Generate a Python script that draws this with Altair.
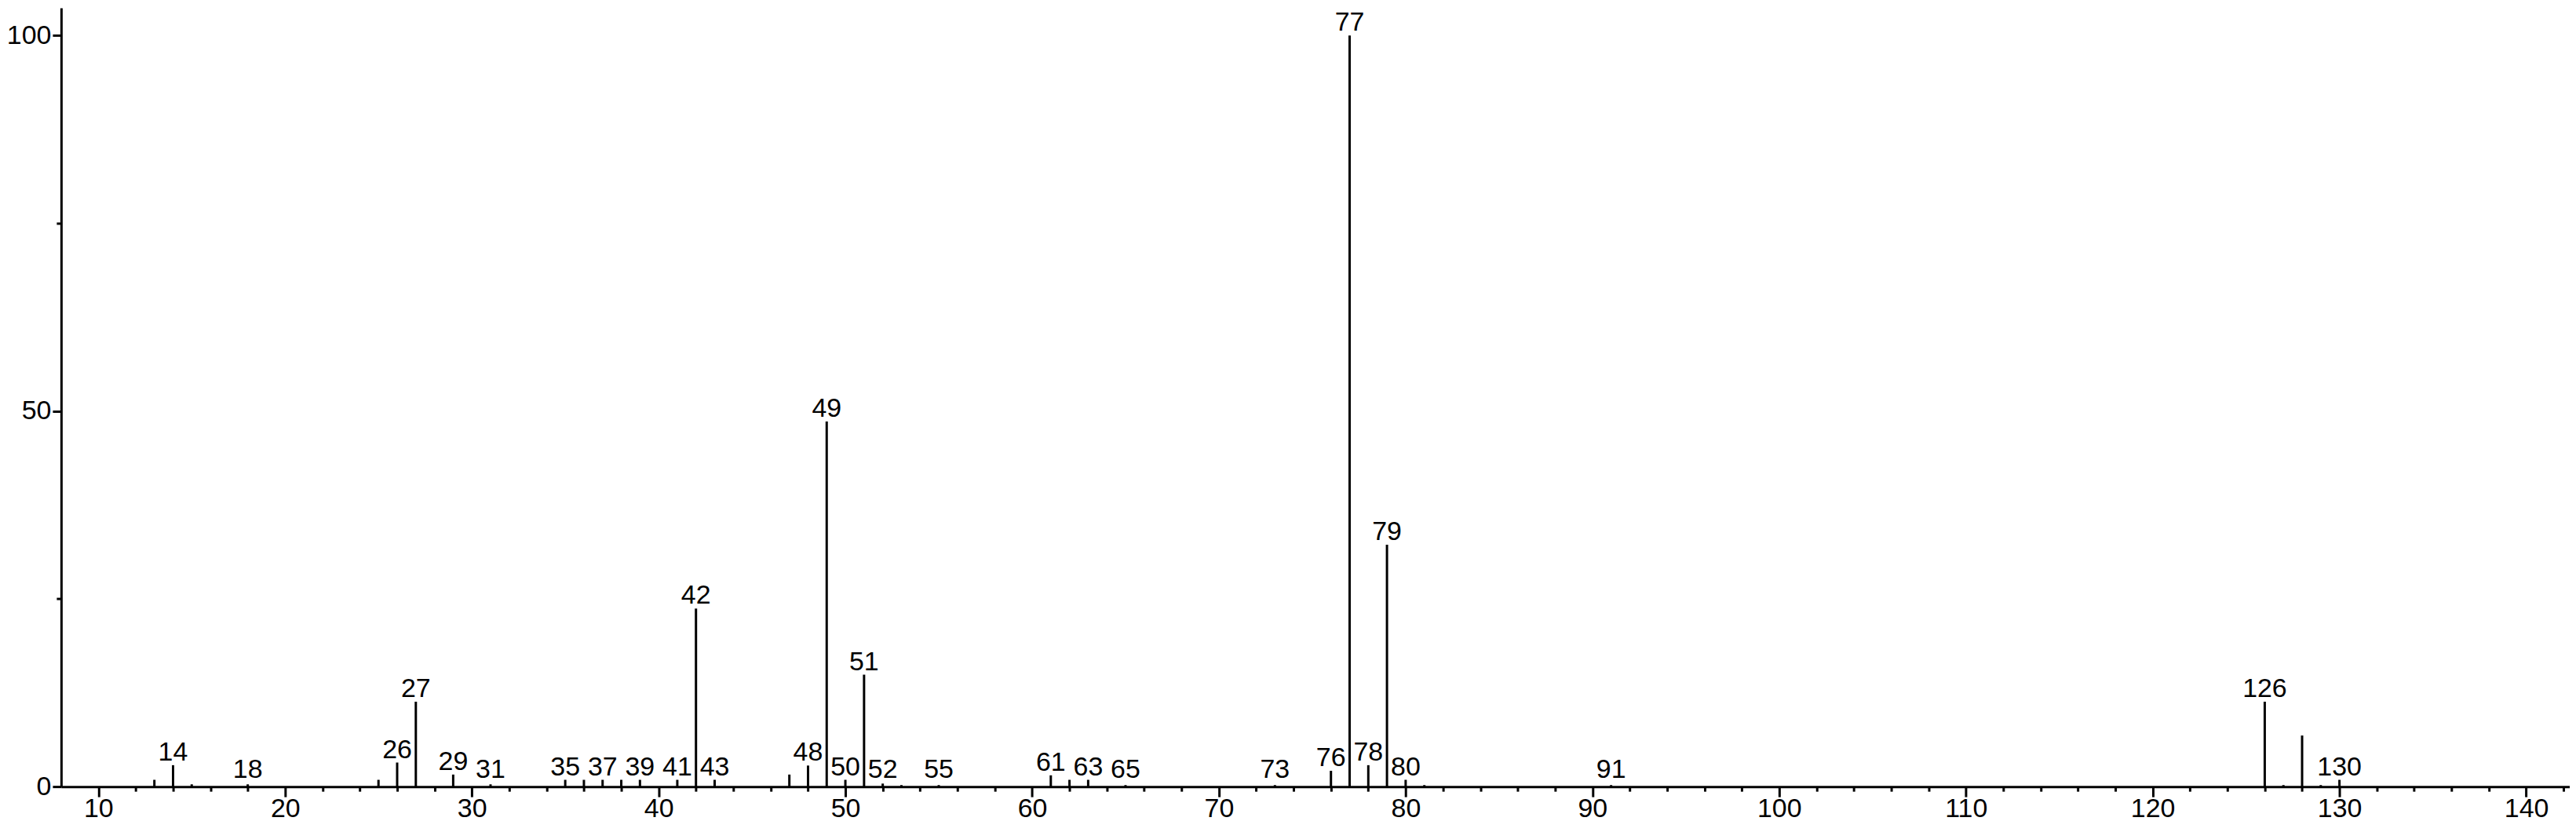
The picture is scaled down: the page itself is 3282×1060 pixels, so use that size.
import altair as alt
import pandas as pd

# m/z values and relative intensities
mz = [13, 14, 15, 18, 25, 26, 27, 29, 31, 35, 36, 37, 38, 39, 41, 42, 43,
      47, 48, 49, 50, 51, 52, 53, 55, 61, 62, 63, 65, 73, 76, 77, 78, 79,
      80, 81, 91, 126, 127, 128, 129, 130]
intensity = [0.9, 2.85, 0.3, 0.3, 0.9, 3.2, 11.3, 1.6, 0.3, 0.9, 0.9, 0.9,
             0.9, 0.9, 0.9, 23.7, 0.9, 1.6, 2.8, 48.6, 0.9, 14.9, 0.4, 0.2,
             0.2, 1.5, 0.9, 0.9, 0.2, 0.2, 2.1, 100.0, 2.85, 32.2, 0.9, 0.2,
             0.2, 11.3, 0.2, 6.8, 0.2, 0.9]
labeled_mz = [14, 18, 26, 27, 29, 31, 35, 37, 39, 41, 42, 43, 48, 49, 50, 51,
              52, 55, 61, 63, 65, 73, 76, 77, 78, 79, 80, 91, 126, 130]

x_tick_values = list(range(10, 143, 2))
y_tick_values = [0, 25, 50, 75, 100]
x_domain = [8.007, 142.33]
y_domain = [0, 103.68]

FONT = "Liberation Sans"
FS = 34

df = pd.DataFrame({"mz": mz, "intensity": intensity})
df["label"] = [str(m) if m in labeled_mz else "" for m in mz]

xscale = alt.Scale(domain=x_domain, nice=False, zero=False)
yscale = alt.Scale(domain=y_domain, nice=False, zero=False)

x_axis = alt.Axis(
    values=x_tick_values,
    title=None,
    grid=False,
    labelExpr="datum.value % 10 === 0 ? datum.label : ''",
    tickSize={"condition": {"test": "datum.value % 10 === 0", "value": 13}, "value": 6},
    labelPadding=-2,
    labelFlush=False,
    labelOverlap=False,
)
y_axis = alt.Axis(
    values=y_tick_values,
    title=None,
    grid=False,
    labelExpr="datum.value % 50 === 0 ? datum.label : ''",
    tickSize={"condition": {"test": "datum.value % 50 === 0", "value": 11}, "value": 6},
    labelPadding=2,
    labelFlush=False,
    labelOverlap=False,
)

base = alt.Chart(df)

rules = base.mark_rule(color="black", strokeWidth=3).encode(
    x=alt.X("mz:Q", scale=xscale, axis=x_axis),
    y=alt.Y("intensity:Q", scale=yscale, axis=y_axis),
    y2=alt.datum(0),
)

labels = base.transform_filter(
    "datum.label != ''"
).transform_calculate(
    ly="max(datum.intensity, 0.5)"
).mark_text(
    font=FONT, fontSize=FS, color="black", baseline="alphabetic",
    align="center", dy=-6,
).encode(
    x=alt.X("mz:Q", scale=xscale),
    y=alt.Y("ly:Q", scale=yscale),
    text="label:N",
)

chart = alt.layer(rules, labels).properties(
    width=3202,
    height=994,
    autosize=alt.AutoSizeParams(type="none"),
    padding={"left": 70, "top": 1, "right": 0, "bottom": 50},
    background="white",
).configure_view(
    stroke=None
).configure_axis(
    domainColor="black",
    domainWidth=3,
    tickColor="black",
    tickWidth=3,
    labelColor="black",
    labelFont=FONT,
    labelFontSize=FS,
)

chart.save("out.html", embed_options={"renderer": "svg", "actions": False})
